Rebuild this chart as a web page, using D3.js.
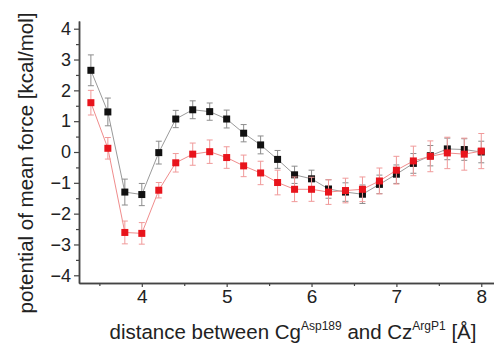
<!DOCTYPE html>
<html>
<head>
<meta charset="utf-8">
<script src="https://cdn.jsdelivr.net/npm/d3@7"></script>
<style>
  body { margin: 0; background: #fff; }
  text { font-family: "Liberation Sans", Arial, sans-serif; fill: #222; }
</style>
</head>
<body>
<div id="chart"></div>
<script>
const FRAME_WIDTH = 494;
const FRAME_HEIGHT = 347;

// data
const distance = [3.4, 3.6, 3.8, 4.0, 4.2, 4.4, 4.6, 4.8, 5.0, 5.2, 5.4, 5.6,
                  5.8, 6.0, 6.2, 6.4, 6.6, 6.8, 7.0, 7.2, 7.4, 7.6, 7.8, 8.0];
const pmfBlack = [2.65, 1.3, -1.3, -1.38, -0.02, 1.07, 1.37, 1.31, 1.07, 0.61, 0.23, -0.24,
                  -0.74, -0.87, -1.2, -1.3, -1.37, -1.05, -0.72, -0.37, -0.12, 0.1, 0.08, 0.0];
const errBlack = [0.5, 0.45, 0.42, 0.36, 0.37, 0.28, 0.29, 0.28, 0.29, 0.28, 0.29, 0.29,
                  0.28, 0.28, 0.3, 0.3, 0.3, 0.3, 0.3, 0.32, 0.33, 0.35, 0.35, 0.35];
const pmfRed = [1.6, 0.12, -2.61, -2.64, -1.24, -0.35, -0.07, 0.01, -0.18, -0.45, -0.68, -0.99,
                -1.21, -1.21, -1.3, -1.25, -1.21, -0.94, -0.59, -0.29, -0.14, -0.03, -0.07, 0.03];
const errRed = [0.4, 0.35, 0.37, 0.35, 0.25, 0.3, 0.36, 0.38, 0.35, 0.35, 0.38, 0.4,
                0.4, 0.39, 0.4, 0.4, 0.4, 0.42, 0.45, 0.48, 0.5, 0.51, 0.52, 0.57];

const yTicks = [-4, -3, -2, -1, 0, 1, 2, 3, 4];
const yMinor = [-3.5, -2.5, -1.5, -0.5, 0.5, 1.5, 2.5, 3.5];
const xTicks = [4, 5, 6, 7, 8];
const xMinor = [3.5, 4.5, 5.5, 6.5, 7.5];

let svg = d3.select("#chart")
  .append("svg")
  .attr("width", FRAME_WIDTH)
  .attr("height", FRAME_HEIGHT);

let x = d3.scaleLinear().domain([3.26, 8.15]).range([79, 494]);
let y = d3.scaleLinear().domain([-4.25, 4.25]).range([283, 21]);

// axes
svg.append("g")
  .attr("class", "yaxis")
  .attr("transform", "translate(79,0)")
  .call(d3.axisLeft(y).tickValues(yTicks).tickSize(5).tickSizeOuter(0).tickPadding(3).tickFormat(d3.format("d")));
svg.append("g")
  .attr("transform", "translate(79,0)")
  .call(d3.axisLeft(y).tickValues(yMinor).tickSize(3).tickSizeOuter(0).tickFormat(""));

svg.append("g")
  .attr("class", "xaxis")
  .attr("transform", "translate(0,283)")
  .call(d3.axisBottom(x).tickValues(xTicks).tickSize(4).tickSizeOuter(0).tickPadding(3).tickFormat(d3.format("d")));
svg.append("g")
  .attr("transform", "translate(0,283)")
  .call(d3.axisBottom(x).tickValues(xMinor).tickSize(3).tickSizeOuter(0).tickFormat(""));

svg.selectAll(".domain").attr("stroke", "#444").attr("stroke-width", 1.5);
svg.selectAll(".tick line").attr("stroke", "#444").attr("stroke-width", 1.2);
svg.selectAll(".tick text")
  .attr("fill", "#222")
  .style("font-family", "'Liberation Sans', Arial, sans-serif");
svg.selectAll(".yaxis .tick text").style("font-size", "18px");
svg.selectAll(".xaxis .tick text").style("font-size", "19px");

// series
function drawSeries(values, errors, lineColor, errColor, markColor) {
  let pts = distance.map((d, i) => ({ x: d, y: values[i], e: errors[i] }));

  svg.append("path")
    .datum(pts)
    .attr("fill", "none")
    .attr("stroke", lineColor)
    .attr("stroke-width", 1)
    .attr("d", d3.line().x(d => x(d.x)).y(d => y(d.y)));

  let eb = svg.append("g").attr("stroke", errColor).attr("stroke-width", 1);
  eb.selectAll(".v").data(pts).enter().append("line")
    .attr("x1", d => x(d.x)).attr("x2", d => x(d.x))
    .attr("y1", d => y(d.y + d.e)).attr("y2", d => y(d.y - d.e));
  eb.selectAll(".t").data(pts).enter().append("line")
    .attr("x1", d => x(d.x) - 3).attr("x2", d => x(d.x) + 3)
    .attr("y1", d => y(d.y + d.e)).attr("y2", d => y(d.y + d.e));
  eb.selectAll(".b").data(pts).enter().append("line")
    .attr("x1", d => x(d.x) - 3).attr("x2", d => x(d.x) + 3)
    .attr("y1", d => y(d.y - d.e)).attr("y2", d => y(d.y - d.e));

  svg.append("g").selectAll("rect").data(pts).enter().append("rect")
    .attr("x", d => x(d.x) - 3.5)
    .attr("y", d => y(d.y) - 3.5)
    .attr("width", 7)
    .attr("height", 7)
    .attr("fill", markColor);
}

drawSeries(pmfBlack, errBlack, "#9a9a9a", "#8c8c8c", "#111");
drawSeries(pmfRed, errRed, "#f08c8c", "#f09a9a", "#e8141c");

// axis titles
svg.append("text")
  .attr("transform", "translate(33,163) rotate(-90)")
  .attr("text-anchor", "middle")
  .style("font-size", "20.5px")
  .text("potential of mean force [kcal/mol]");

let xt = svg.append("text")
  .attr("x", 293)
  .attr("y", 339)
  .attr("text-anchor", "middle")
  .style("font-size", "20.5px");
xt.append("tspan").text("distance between Cg");
xt.append("tspan").attr("dy", -9).style("font-size", "12px").text("Asp189");
xt.append("tspan").attr("dy", 9).text(" and Cz");
xt.append("tspan").attr("dy", -9).style("font-size", "12px").text("ArgP1");
xt.append("tspan").attr("dy", 9).text(" [Å]");
</script>
</body>
</html>
